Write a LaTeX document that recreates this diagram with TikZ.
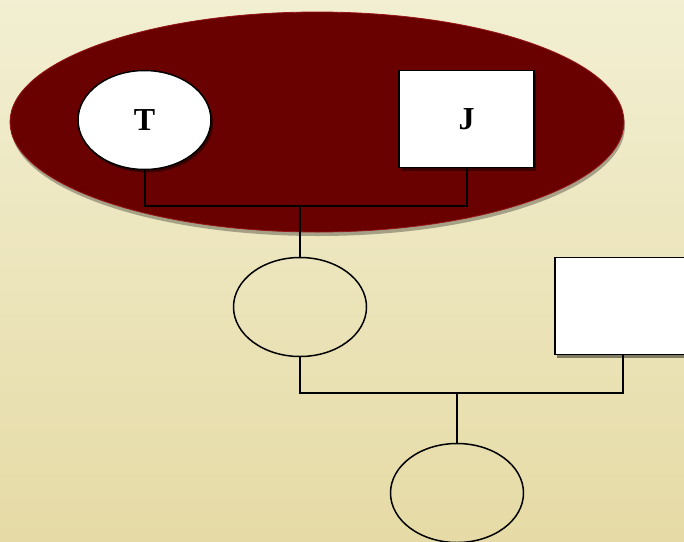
\documentclass[tikz,border=0pt]{standalone}
\usepackage{fontspec}
\setmainfont{Liberation Serif}
\usetikzlibrary{shapes.geometric, shadows}
\definecolor{parchtop}{RGB}{242,239,210}
\definecolor{parchmid}{RGB}{244,240,204}
\definecolor{parchbot}{RGB}{230,219,166}
\definecolor{famred}{RGB}{106,1,1}
\definecolor{famedge}{RGB}{150,20,20}
\tikzset{
  fem/.style={ellipse, draw=black, line width=1.5pt, minimum width=133pt, minimum height=99pt, inner sep=0pt},
  mal/.style={rectangle, draw=black, line width=1.5pt, fill=white, minimum width=135pt, minimum height=97pt, inner sep=0pt},
  shad/.style={drop shadow={shadow xshift=2pt, shadow yshift=-3pt, opacity=0.45, fill=black}},
  link/.style={line width=2pt},
  lbl/.style={font=\fontsize{32}{36}\selectfont\bfseries}
}

\begin{document}
\begin{tikzpicture}[x=1pt, y=-1pt]
\shade[top color=parchtop, middle color=parchmid, bottom color=parchbot] (0,0) rectangle (684,541);
\begin{scope}
\clip (0,0) rectangle (684,541);
% couple
\node[ellipse, fill=famred, draw=famedge, line width=0.8pt, minimum width=614pt, minimum height=220pt,
  drop shadow={shadow xshift=1pt, shadow yshift=-4pt, opacity=0.3, fill=black}] (fam) at (317,122) {};
\node[fem, fill=white, shad, lbl] (t) at (144.5,120) {T};
\node[mal, shad, lbl] (j) at (466.5,119) {J};
% children
\node[fem] (c1) at (300,307) {};
\node[mal, shad] (m2) at (622.5,306) {};
\node[fem] (c2) at (457,493) {};
\coordinate (tj) at (300,206);
\coordinate (cm) at (457,393);
\draw[link] (t.south) |- (tj) -| (j.south);
\draw[link] (tj) -- (c1.north);
\draw[link] (c1.south) |- (cm) -| (m2.south);
\draw[link] (cm) -- (c2.north);
\end{scope}
\pgfresetboundingbox
\useasboundingbox (0,0) rectangle (684,541);
\end{tikzpicture}
\end{document}
